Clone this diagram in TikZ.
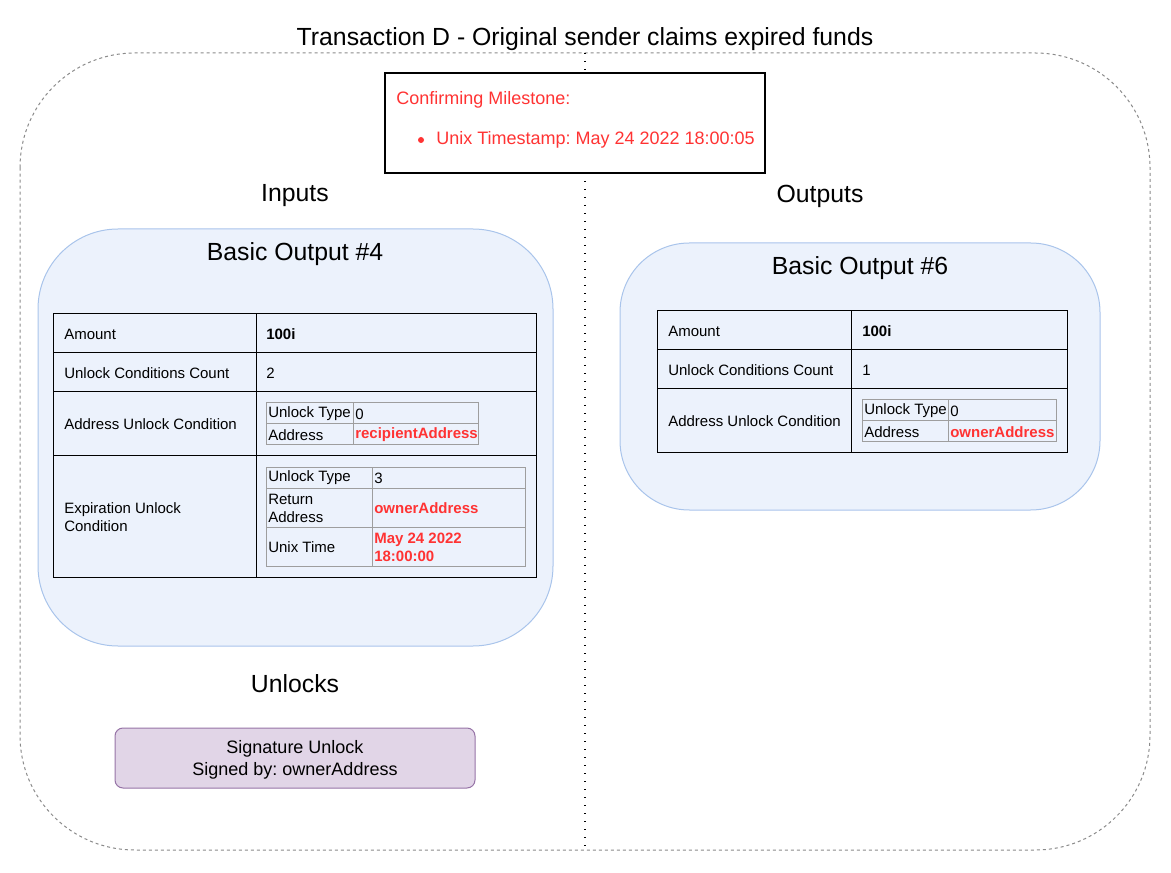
\documentclass[tikz,border=0pt]{standalone}
\usepackage{fontspec}
\setmainfont{Liberation Sans}
\frenchspacing
\definecolor{msred}{HTML}{FF3333}
\definecolor{outfill}{HTML}{ECF2FC}
\definecolor{outline}{HTML}{A9C4EB}
\definecolor{sigfill}{HTML}{E1D5E7}
\definecolor{sigline}{HTML}{9673A6}
\definecolor{boxgray}{HTML}{8A8A8A}
\definecolor{cellgray}{HTML}{9E9E9E}
\begin{document}
\begin{tikzpicture}[
				x=0.75pt, y=-0.75pt,
				every node/.style={
						inner sep=0pt,
					},
				heading/.style={font=\fontsize{18.6}{22}\selectfont},
				cell/.style={font=\fontsize{11.25}{13.5}\selectfont, anchor=west, align=left},
				addr/.style={cell, text=msred, font=\fontsize{11.25}{13.5}\selectfont\bfseries},
				outbox/.style={fill=outfill, draw=outline, line width=0.75pt},
				grid/.style={draw=cellgray, line width=0.75pt},
				]
			\useasboundingbox (0,0) rectangle (1171,873);
			% frame of the transaction
			\draw [boxgray, line width=0.75pt, dash pattern=on 2.25pt off 2.25pt, rounded corners=86pt] (20,53) rectangle (1150,850);
			\draw [line width=1.1pt, dash pattern=on 1.1pt off 4.9pt] (585,53) -- (585,850);
			\node[heading] (title) at (585,39) {Transaction D - Original sender claims expired funds};

			% milestone
			\draw [fill=white, line width=0.9pt] (385,73) rectangle (765,173);
			\node[anchor=west, text=msred, font=\fontsize{13.5}{16}\selectfont] (ms) at (396,100) {Confirming Milestone:};
			\node[anchor=west, text=msred, font=\fontsize{13.5}{16}\selectfont] (mstime) at (436,140) {Unix Timestamp: May 24 2022 18:00:05};
			\fill [msred] (421,140) circle (3);

			\node[heading] (inputs) at (295,196) {Inputs};
			\node[heading] (outputs) at (820,196) {Outputs};

			% input: basic output #4
			\draw [outbox, rounded corners=60pt] (38,229) rectangle (553,646);
			\node[heading] (in4) at (295,254) {Basic Output \#4};
			\draw [line width=0.75pt] (53,314) rectangle (536,577);
			\foreach \y in {353,392,456} {
					\draw [line width=0.75pt] (53,\y) -- (536,\y);
				}
			\draw [line width=0.75pt] (256,314) -- (256,577);
			\node[cell] (amt4) at (64,334) {Amount};
			\node[cell] (amt4v) at (266,334) {\bfseries 100i};
			\node[cell] (cnt4) at (64,373) {Unlock Conditions Count};
			\node[cell] (cnt4v) at (266,373) {2};
			\node[cell] (auc4) at (64,424.5) {Address Unlock Condition};
			\node[cell] (euc4) at (64,517) {Expiration Unlock\\Condition};
			% address unlock condition
			\draw [grid] (266,403) rectangle (478,445);
			\draw [grid] (266,424) -- (478,424);
			\draw [grid] (353,403) -- (353,445);
			\node[cell] (auc4t) at (268,414) {Unlock Type};
			\node[cell] (auc4tv) at (355,414) {0};
			\node[cell] (auc4a) at (268,435) {Address};
			\node[addr] (auc4av) at (355,435) {recipientAddress};
			% expiration unlock condition
			\draw [grid] (266,467) rectangle (525,566);
			\draw [grid] (266,488) -- (525,488);
			\draw [grid] (266,527) -- (525,527);
			\draw [grid] (372,467) -- (372,566);
			\node[cell] (euc4t) at (268,478) {Unlock Type};
			\node[cell] (euc4tv) at (374,478) {3};
			\node[cell] (euc4r) at (268,508) {Return\\Address};
			\node[addr] (euc4rv) at (374,508) {ownerAddress};
			\node[cell] (euc4u) at (268,547) {Unix Time};
			\node[addr] (euc4uv) at (374,547) {May 24 2022\\18:00:00};

			% output: basic output #6
			\draw [outbox, rounded corners=52pt] (620,243) rectangle (1100,510);
			\node[heading] (out6) at (860,268) {Basic Output \#6};
			\draw [line width=0.75pt] (657,311) rectangle (1067,453);
			\draw [line width=0.75pt] (657,350) -- (1067,350);
			\draw [line width=0.75pt] (657,389) -- (1067,389);
			\draw [line width=0.75pt] (851,311) -- (851,453);
			\node[cell] (amt6) at (668,331) {Amount};
			\node[cell] (amt6v) at (862,331) {\bfseries 100i};
			\node[cell] (cnt6) at (668,370) {Unlock Conditions Count};
			\node[cell] (cnt6v) at (862,370) {1};
			\node[cell] (auc6) at (668,421.5) {Address Unlock Condition};
			\draw [grid] (862,400) rectangle (1056,442);
			\draw [grid] (862,421) -- (1056,421);
			\draw [grid] (948,400) -- (948,442);
			\node[cell] (auc6t) at (864,411) {Unlock Type};
			\node[cell] (auc6tv) at (950,411) {0};
			\node[cell] (auc6a) at (864,432) {Address};
			\node[addr] (auc6av) at (950,432) {ownerAddress};

			% unlocks
			\node[heading] (unlocks) at (295,684) {Unlocks};
			\draw [fill=sigfill, draw=sigline, line width=0.75pt, rounded corners=6pt] (115,728) rectangle (475,788);
			\node[align=center, font=\fontsize{13.5}{16.5}\selectfont] (sig) at (295,760) {Signature Unlock\\Signed by: ownerAddress};
		\end{tikzpicture}
\end{document}
